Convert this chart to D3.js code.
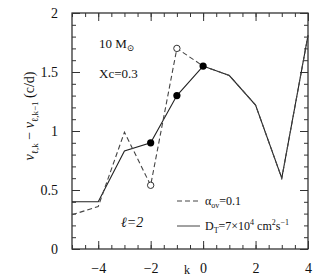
<!DOCTYPE html>
<html>
<head>
<meta charset="utf-8">
<script src="https://cdn.jsdelivr.net/npm/d3@7"></script>
<style>
body { margin: 0; background: #fff; }
text { font-family: "Liberation Serif", "DejaVu Serif", serif; fill: #111; }
</style>
</head>
<body>
<div id="chart"></div>
<script>
// period spacing data
var k = [-5, -4, -3, -2, -1, 0, 1, 2, 3, 4];
var ovValues = [0.29, 0.36, 0.99, 0.54, 1.70, 1.55, 1.47, 1.22, 0.60, 1.81];   // alpha_ov = 0.1 (dashed)
var dtValues = [0.40, 0.40, 0.83, 0.90, 1.30, 1.55, 1.47, 1.22, 0.60, 1.81];   // D_T (solid)
var openK = [-2, -1];          // open circles on dashed line
var filledK = [-2, -1, 0];     // filled dots on solid line
var xTicks = [-4, -2, 0, 2, 4];
var yTicks = [0, 0.5, 1, 1.5, 2];

var margin = {top: 13, right: 19, bottom: 29, left: 72};
var W = 327, H = 278;
var width = W - margin.left - margin.right;
var height = H - margin.top - margin.bottom;

var x = d3.scaleLinear().domain([-5, 4]).range([0, width]);
var y = d3.scaleLinear().domain([0, 2]).range([height, 0]);

var svg = d3.select("#chart").append("svg")
    .attr("width", W)
    .attr("height", H)
  .append("g")
    .attr("transform", "translate(" + margin.left + "," + margin.top + ")");

// frame
svg.append("rect")
    .attr("width", width).attr("height", height)
    .attr("fill", "none").attr("stroke", "#222").attr("stroke-width", 1.2);

var xMinor = d3.range(-5, 4.01, 0.5);
var yMinor = d3.range(0, 2.001, 0.1);

function styleAxis(g) {
  g.select(".domain").remove();
  g.selectAll("line").attr("stroke", "#333");
  g.selectAll("text").style("font-size", "14px").style("font-family", "Liberation Serif, serif");
}

// minor ticks on all 4 sides
svg.append("g").attr("transform", "translate(0," + height + ")")
    .call(d3.axisBottom(x).tickValues(xMinor).tickSize(-4).tickFormat(""))
    .call(styleAxis);
svg.append("g")
    .call(d3.axisTop(x).tickValues(xMinor).tickSize(-4).tickFormat(""))
    .call(styleAxis);
svg.append("g")
    .call(d3.axisLeft(y).tickValues(yMinor).tickSize(-4).tickFormat(""))
    .call(styleAxis);
svg.append("g").attr("transform", "translate(" + width + ",0)")
    .call(d3.axisRight(y).tickValues(yMinor).tickSize(-4).tickFormat(""))
    .call(styleAxis);

// major ticks + labels
svg.append("g").attr("transform", "translate(0," + height + ")")
    .call(d3.axisBottom(x).tickValues(xTicks).tickSize(-8).tickPadding(14).tickFormat(d3.format("d")))
    .call(styleAxis);
svg.append("g")
    .call(d3.axisTop(x).tickValues(xTicks).tickSize(-8).tickFormat(""))
    .call(styleAxis);
svg.append("g")
    .call(d3.axisLeft(y).tickValues(yTicks).tickSize(-8).tickPadding(14).tickFormat(function(d) { return d; }))
    .call(styleAxis);
svg.append("g").attr("transform", "translate(" + width + ",0)")
    .call(d3.axisRight(y).tickValues(yTicks).tickSize(-8).tickFormat(""))
    .call(styleAxis);

var line = d3.line()
    .x(function(d) { return x(d[0]); })
    .y(function(d) { return y(d[1]); });

var ovData = k.map(function(d, i) { return [d, ovValues[i]]; });
var dtData = k.map(function(d, i) { return [d, dtValues[i]]; });

svg.append("path")
    .attr("d", line(dtData))
    .attr("fill", "none").attr("stroke", "#222").attr("stroke-width", 1.1);

svg.append("path")
    .attr("d", line(ovData))
    .attr("fill", "none").attr("stroke", "#444").attr("stroke-width", 1.1)
    .attr("stroke-dasharray", "5,3");

svg.selectAll("circle.open")
    .data(ovData.filter(function(d) { return openK.indexOf(d[0]) >= 0; }))
    .enter().append("circle")
    .attr("class", "open")
    .attr("r", 3.2)
    .attr("cx", function(d) { return x(d[0]); })
    .attr("cy", function(d) { return y(d[1]); })
    .attr("fill", "#fff").attr("stroke", "#333").attr("stroke-width", 1);

svg.selectAll("circle.filled")
    .data(dtData.filter(function(d) { return filledK.indexOf(d[0]) >= 0; }))
    .enter().append("circle")
    .attr("class", "filled")
    .attr("r", 3.6)
    .attr("cx", function(d) { return x(d[0]); })
    .attr("cy", function(d) { return y(d[1]); })
    .attr("fill", "#000");

// annotations
var ann = svg.append("g").style("font-size", "13px");
var t1 = ann.append("text").attr("x", 27).attr("y", 35);
t1.append("tspan").text("10 M");
t1.append("tspan").attr("dy", 3).style("font-size", "9px").text("\u2299");
ann.append("text").attr("x", 27).attr("y", 65).text("Xc=0.3");
ann.append("text").attr("x", 49).attr("y", 214).style("font-size", "14px")
    .style("font-style", "italic").text("\u2113=2");

// legend
var lg = svg.append("g").style("font-size", "12px");
lg.append("line").attr("x1", 105).attr("x2", 128).attr("y1", 188).attr("y2", 188)
    .attr("stroke", "#444").attr("stroke-dasharray", "5,3");
var l1 = lg.append("text").attr("x", 133).attr("y", 192);
l1.append("tspan").text("\u03b1");
l1.append("tspan").attr("dy", 3).style("font-size", "8px").text("ov");
l1.append("tspan").attr("dy", -3).text("=0.1");

lg.append("line").attr("x1", 105).attr("x2", 128).attr("y1", 213).attr("y2", 213)
    .attr("stroke", "#444");
var l2 = lg.append("text").attr("x", 133).attr("y", 217);
l2.append("tspan").text("D");
l2.append("tspan").attr("dy", 3).style("font-size", "8px").text("T");
l2.append("tspan").attr("dy", -3).text("=7\u00d710");
l2.append("tspan").attr("dy", -5).style("font-size", "8px").text("4");
l2.append("tspan").attr("dy", 5).text(" cm");
l2.append("tspan").attr("dy", -5).style("font-size", "8px").text("2");
l2.append("tspan").attr("dy", 5).text("s");
l2.append("tspan").attr("dy", -5).style("font-size", "8px").text("\u22121");

// axis titles
svg.append("text")
    .attr("x", width / 2 - 3).attr("y", height + 25)
    .attr("text-anchor", "middle").style("font-size", "12px").text("k");

var yl = svg.append("text")
    .attr("transform", "translate(-38," + (height / 2 - 15) + ") rotate(-90)")
    .attr("text-anchor", "middle").style("font-size", "14px");
yl.append("tspan").style("font-style", "italic").text("\u03bd");
yl.append("tspan").attr("dy", 4).style("font-size", "9px").text("\u2113,k");
yl.append("tspan").attr("dy", -4).text(" \u2212 ");
yl.append("tspan").style("font-style", "italic").text("\u03bd");
yl.append("tspan").attr("dy", 4).style("font-size", "9px").text("\u2113,k\u22121");
yl.append("tspan").attr("dy", -4).text(" (c/d)");
</script>
</body>
</html>
